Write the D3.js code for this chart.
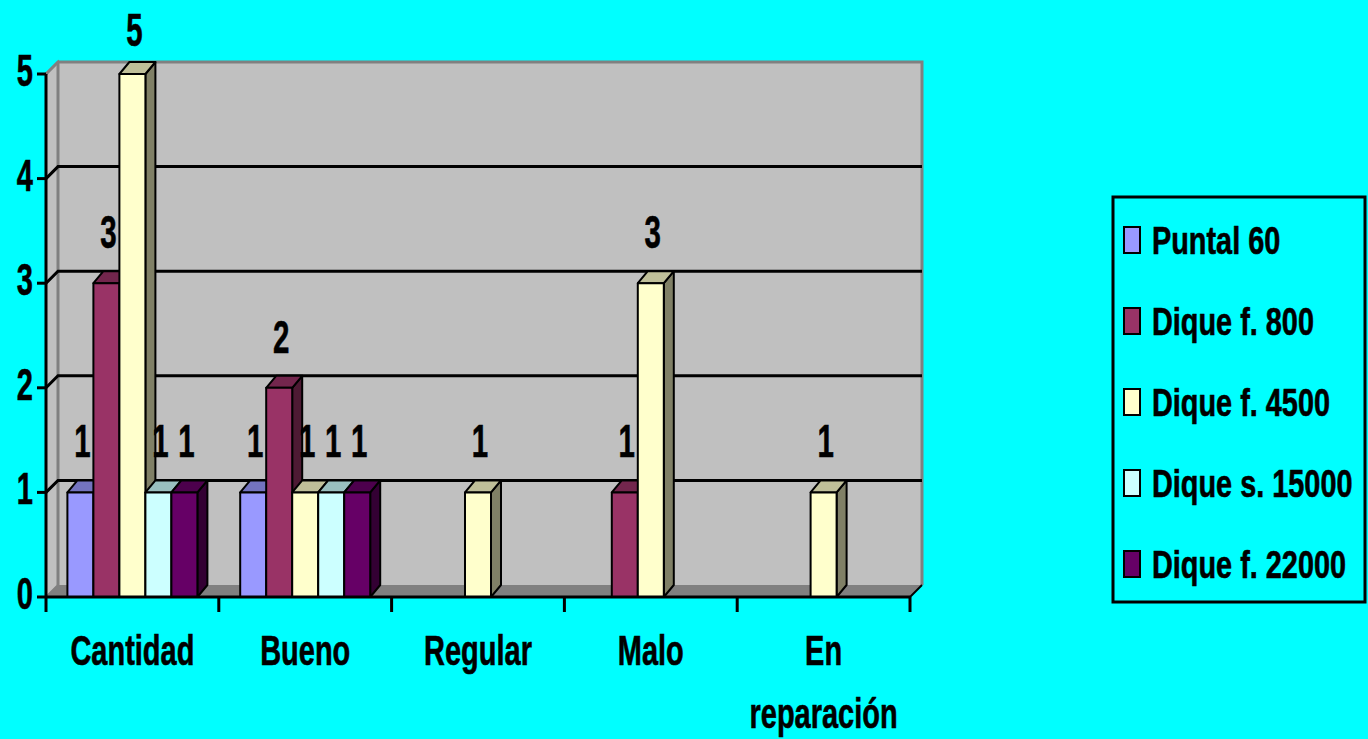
<!DOCTYPE html>
<html>
<head>
<meta charset="utf-8">
<script src="https://cdn.jsdelivr.net/npm/d3@7"></script>
<style>
  html, body { margin: 0; padding: 0; background: #00FFFF; }
  svg { display: block; }
  text { font-family: "Liberation Sans", Arial, sans-serif; font-weight: bold; fill: #000; stroke: #000; stroke-width: 0.6px; }
</style>
</head>
<body>
<svg id="chart" width="1368" height="739"></svg>
<script>
// ---- data ----
const categories = ["Cantidad", "Bueno", "Regular", "Malo", "En reparación"];
const seriesNames = ["Puntal 60", "Dique f. 800", "Dique f. 4500", "Dique s. 15000", "Dique f. 22000"];
const puntal60   = [1, 1, 0, 0, 0];
const dique800   = [3, 2, 0, 1, 0];
const dique4500  = [5, 1, 1, 3, 1];
const dique15000 = [1, 1, 0, 0, 0];
const dique22000 = [1, 1, 0, 0, 0];
const yTicks = [0, 1, 2, 3, 4, 5];
const seriesValues = [puntal60, dique800, dique4500, dique15000, dique22000];
const seriesColors = [
  { front: "#9999FF", top: "#7373BF", side: "#4D4D80" },
  { front: "#993366", top: "#73264D", side: "#4D1A33" },
  { front: "#FFFFCC", top: "#BFBF99", side: "#808066" },
  { front: "#CCFFFF", top: "#99BFBF", side: "#668080" },
  { front: "#660066", top: "#4D004D", side: "#330033" }
];

// ---- layout ----
const svg = d3.select("#chart");
const X0 = 46, X1 = 910, Y0 = 597, Y5 = 74;
const DX = 12, DY = -12;      // wall depth
const BDX = 10, BDY = -12;    // bar depth

const x = d3.scaleBand().domain(categories).range([X0, X1]).paddingInner(0).paddingOuter(0);
const xs = d3.scaleBand().domain(seriesNames).range([0, x.bandwidth()]).paddingInner(0).paddingOuter(0.823);
const y = d3.scaleLinear().domain([0, 5]).range([Y0, Y5]);

function scaledText(g, txt, tx, ty, size, sx, anchor) {
  return g.append("text")
    .attr("transform", `translate(${tx},${ty}) scale(${sx},1)`)
    .attr("text-anchor", anchor || "middle")
    .style("font-size", size + "px")
    .text(txt);
}

// back wall
svg.append("rect")
  .attr("x", X0 + DX).attr("y", y(5) + DY)
  .attr("width", X1 - X0).attr("height", y(0) - y(5))
  .attr("fill", "#C0C0C0");
// side wall
svg.append("polygon")
  .attr("points", [[X0, y(0)], [X0 + DX, y(0) + DY], [X0 + DX, y(5) + DY], [X0, y(5)]].join(" "))
  .attr("fill", "#C0C0C0").attr("stroke", "#808080").attr("stroke-width", 2);
// floor
svg.append("polygon")
  .attr("points", [[X0, y(0)], [X1, y(0)], [X1 + DX, y(0) + DY], [X0 + DX, y(0) + DY]].join(" "))
  .attr("fill", "#808080");
// wall top and right edges
svg.append("path")
  .attr("d", `M${X0},${y(5)} L${X0 + DX},${y(5) + DY} L${X1 + DX},${y(5) + DY} L${X1 + DX},${y(0) + DY}`)
  .attr("fill", "none").attr("stroke", "#808080").attr("stroke-width", 3);
svg.append("line")
  .attr("x1", X0 + DX).attr("y1", y(5) + DY).attr("x2", X0 + DX).attr("y2", y(0) + DY)
  .attr("stroke", "#808080").attr("stroke-width", 3);

// gridlines (back wall + side wall)
const grid = svg.append("g");
yTicks.filter(t => t > 0 && t < 5).forEach(t => {
  grid.append("path")
    .attr("d", `M${X0},${y(t)} L${X0 + DX},${y(t) + DY} L${X1 + DX},${y(t) + DY}`)
    .attr("fill", "none").attr("stroke", "#000").attr("stroke-width", 3);
});
// floor right diagonal
svg.append("line")
  .attr("x1", X1).attr("y1", y(0)).attr("x2", X1 + DX).attr("y2", y(0) + DY)
  .attr("stroke", "#000").attr("stroke-width", 2);

// y axis
svg.append("line").attr("x1", X0).attr("x2", X0).attr("y1", y(5)).attr("y2", y(0))
  .attr("stroke", "#000").attr("stroke-width", 3);
const yAxisG = svg.append("g");
yTicks.forEach(t => {
  yAxisG.append("line").attr("x1", X0 - 9).attr("x2", X0).attr("y1", y(t)).attr("y2", y(t))
    .attr("stroke", "#000").attr("stroke-width", 3);
  scaledText(yAxisG, String(t), 33, y(t) + 12, 44, 0.66, "end");
});

// bars
const barsG = svg.append("g");
const w = xs.bandwidth();
categories.forEach((c, ci) => {
  seriesNames.forEach((s, si) => {
    const v = seriesValues[si][ci];
    if (!v) return;
    const bx = x(c) + xs(s), yt = y(v), yb = y(0);
    const col = seriesColors[si];
    const g = barsG.append("g").attr("stroke", "#000").attr("stroke-width", 2).attr("stroke-linejoin", "round");
    g.append("polygon")
      .attr("points", [[bx + w, yt], [bx + w + BDX, yt + BDY], [bx + w + BDX, yb + BDY], [bx + w, yb]].join(" "))
      .attr("fill", col.side);
    g.append("polygon")
      .attr("points", [[bx, yt], [bx + w, yt], [bx + w + BDX, yt + BDY], [bx + BDX, yt + BDY]].join(" "))
      .attr("fill", col.top);
    g.append("rect").attr("x", bx).attr("y", yt).attr("width", w).attr("height", yb - yt)
      .attr("fill", col.front);
  });
});

// x axis
svg.append("line").attr("x1", X0).attr("x2", X1).attr("y1", y(0)).attr("y2", y(0))
  .attr("stroke", "#000").attr("stroke-width", 3);
const xAxisG = svg.append("g");
categories.concat([null]).forEach((c, i) => {
  const tx = c === null ? X1 : x(c);
  xAxisG.append("line").attr("x1", tx).attr("x2", tx).attr("y1", y(0)).attr("y2", y(0) + 15)
    .attr("stroke", "#000").attr("stroke-width", 3);
});
categories.forEach(c => {
  const cx = x(c) + x.bandwidth() / 2;
  const words = c.split(" ");
  words.forEach((wd, li) => {
    scaledText(xAxisG, wd, cx, 665 + li * 63, 42, 0.69, "middle");
  });
});

// data labels
const labG = svg.append("g");
categories.forEach((c, ci) => {
  seriesNames.forEach((s, si) => {
    const v = seriesValues[si][ci];
    if (!v) return;
    const cx = x(c) + xs(s) + w / 2 + 2;
    scaledText(labG, String(v), cx, Math.max(y(v) - 35, 46), 46, 0.64, "middle");
  });
});

// legend
const lg = svg.append("g");
lg.append("rect").attr("x", 1113).attr("y", 197).attr("width", 252).attr("height", 405)
  .attr("fill", "none").attr("stroke", "#000").attr("stroke-width", 3);
const ly = d3.scalePoint().domain(seriesNames).range([240, 564]);
seriesNames.forEach((s, si) => {
  lg.append("rect").attr("x", 1124).attr("y", ly(s) - 13).attr("width", 16).attr("height", 26)
    .attr("fill", seriesColors[si].front).attr("stroke", "#000").attr("stroke-width", 2);
  scaledText(lg, s, 1152, ly(s) + 14, 39, 0.74, "start");
});
</script>
</body>
</html>
